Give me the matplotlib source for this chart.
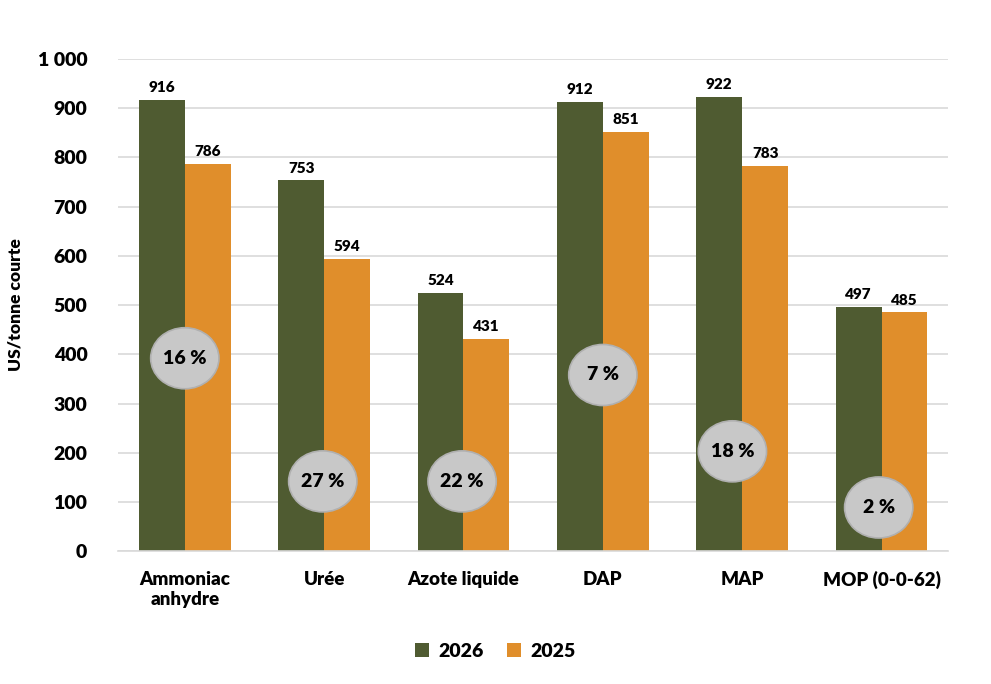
import numpy as np
import matplotlib.pyplot as plt
from matplotlib.patches import Ellipse

plt.rcParams['font.family'] = ['Lato', 'DejaVu Sans']

categories = ['Ammoniac\nanhydre', 'Urée', 'Azote liquide', 'DAP', 'MAP', 'MOP (0-0-62)']
vals_2026 = [916, 753, 524, 912, 922, 497]
vals_2025 = [786, 594, 431, 851, 783, 485]
pct_labels = ['16 %', '27 %', '22 %', '7 %', '18 %', '2 %']
pct_y = [392, 142, 142, 358, 203, 89]
pct_x_off = [0.0, -0.01, -0.01, 0.0, -0.07, -0.02]

green = '#4F5B31'
orange = '#E08E2B'

fig = plt.figure(figsize=(9.91, 6.84), dpi=100)
ax = fig.add_axes([0.119, 0.194, 0.838, 0.72])

x = np.arange(len(categories))
w = 0.33
ax.bar(x - w/2, vals_2026, w, color=green, label='2026', zorder=2)
ax.bar(x + w/2, vals_2025, w, color=orange, label='2025', zorder=2)

for i in range(len(x)):
    ax.text(x[i] - w/2, vals_2026[i] + 12, str(vals_2026[i]), ha='center', va='bottom',
            fontsize=11, fontweight='heavy')
    ax.text(x[i] + w/2, vals_2025[i] + 12, str(vals_2025[i]), ha='center', va='bottom',
            fontsize=11, fontweight='heavy')
    e = Ellipse((x[i] + pct_x_off[i], pct_y[i]), 0.49, 124, facecolor='#C8C8C8',
                edgecolor='#B0B0B0', lw=1.2, zorder=3)
    ax.add_patch(e)
    ax.text(x[i] + pct_x_off[i], pct_y[i], pct_labels[i], ha='center', va='center',
            fontsize=14, fontweight='heavy', zorder=4)

ax.set_xlim(-0.48, len(x) - 0.52)
ax.set_ylim(0, 1000)
yt = np.arange(0, 1001, 100)
ax.set_yticks(yt)
ax.set_yticklabels(['1 000' if v == 1000 else str(v) for v in yt], fontsize=14, fontweight='heavy')
ax.set_xticks(x)
ax.set_xticklabels(categories, fontsize=13.5, fontweight='heavy')
ax.tick_params(axis='both', length=0)
ax.tick_params(axis='x', pad=14)
ax.tick_params(axis='y', pad=22)
ax.grid(axis='y', color='#D9D9D9', lw=1.2, zorder=0)
for s in ['top', 'right', 'left']:
    ax.spines[s].set_visible(False)
ax.spines['bottom'].set_color('#D9D9D9')
ax.spines['bottom'].set_linewidth(1.2)

ax.set_ylabel('US/tonne courte', fontsize=12.5, fontweight='heavy', labelpad=10)

fig.legend(loc='center', bbox_to_anchor=(0.5, 0.048), ncol=2, frameon=False,
           prop={'size': 14, 'weight': 'heavy'}, handlelength=0.7, handleheight=0.7,
           columnspacing=1.2, handletextpad=0.5)

fig.savefig('out.png', dpi=100)
